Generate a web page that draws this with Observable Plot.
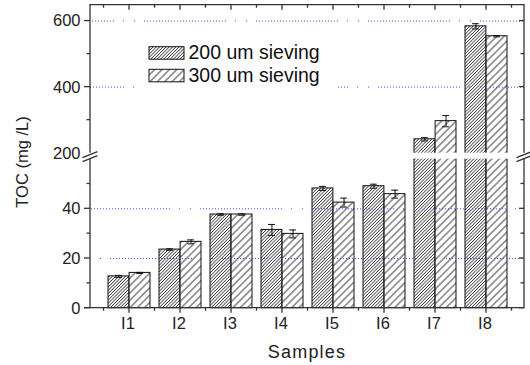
<!DOCTYPE html>
<html><head><meta charset="utf-8">
<script src="https://cdn.jsdelivr.net/npm/d3@7"></script>
<script src="https://cdn.jsdelivr.net/npm/@observablehq/plot@0.6"></script>
<style>html,body{margin:0;padding:0;background:#fff}#chart{width:530px;height:365px}</style>
</head><body><div id="chart"></div>
<script>
// ---- data ----
const samples = ["I1", "I2", "I3", "I4", "I5", "I6", "I7", "I8"];
const toc200 = [12.8, 23.6, 37.7, 31.5, 48.2, 49.1, 242, 584];
const err200 = [0.4, 0.3, 0.3, 2.2, 0.8, 0.8, 5, 8];
const toc300 = [14.2, 26.7, 37.7, 29.9, 42.5, 45.9, 297, 554];
const err300 = [0.2, 0.8, 0.3, 1.6, 1.8, 1.6, 17, 2];
const seriesNames = ["200 um sieving", "300 um sieving"];
const lowTicks = [0, 20, 40];
const lowMinor = [10, 30, 50];
const highTicks = [200, 400, 600];
const highMinor = [300, 500];
const gridValues = [20, 40, 400, 600];
const gridOffsets = [92, 2, 48, 58];
const yBreak = [60, 200];
const yDomain = [0, 60, 200, 648];

// ---- layout ----
const FONT = "'Liberation Sans', Arial, Helvetica, sans-serif";
const W = 530, H = 365;
const xL = 90, xR = 524, yB = 307.7, yT = 4.7;
const padIn = 0.18, padOut = 0.305;
const step0 = (xR - xL) / (samples.length - padIn + 2 * padOut);
const bw0 = step0 * (1 - padIn);
const ink = "#222";

const d200 = samples.map((s, i) => ({sample: s, v: toc200[i], e: err200[i]}));
const d300 = samples.map((s, i) => ({sample: s, v: toc300[i], e: err300[i]}));

// dotted grid dash pattern (runs of dots with isolated dots)
const dash = [];
for (let k = 0; k < 28; k++) dash.push(1, 2);
dash[dash.length - 1] = 9;
dash.push(1, 10, 1, 9);
const dashStr = dash.join(",");

function defsMark() {
  const g = d3.create("svg:g");
  const defs = g.append("defs");
  const mk = (id, sp, sw, col) => {
    const p = defs.append("pattern").attr("id", id).attr("patternUnits", "userSpaceOnUse")
      .attr("width", sp).attr("height", sp).attr("patternTransform", "rotate(45)");
    p.append("rect").attr("width", sp).attr("height", sp).attr("fill", "white");
    p.append("line").attr("x1", sp / 2).attr("x2", sp / 2).attr("y1", -1).attr("y2", sp + 1)
      .attr("stroke", col).attr("stroke-width", sw);
  };
  mk("h200", 2.3, 0.75, "#333");
  mk("h300", 5.2, 0.85, "#222");
  return g.node();
}

function gridMarks() {
  return gridValues.map((v, i) => Plot.ruleY([v], {
    stroke: "#4a4aff", strokeWidth: 1, strokeDasharray: dashStr, strokeDashoffset: gridOffsets[i]
  }));
}

function axesMark(index, scales, values, dims) {
  const X = scales.x, Y = scales.y;
  const bw = X.bandwidth ? X.bandwidth() : bw0;
  const st = X.step ? X.step() : step0;
  const cx = s => X(s) + bw / 2;
  const L = dims.marginLeft, R = dims.width - dims.marginRight;
  const T = Y(yDomain[yDomain.length - 1]), B = Y(0);
  const gTop = Y(yBreak[1]), gBot = Y(yBreak[0]);
  const g = d3.create("svg:g");

  // white gap across the break
  g.append("rect").attr("x", L + 0.7).attr("width", R - L - 1.4)
    .attr("y", gTop).attr("height", gBot - gTop).attr("fill", "white");

  const s = g.append("g").attr("fill", "none").attr("stroke", "#333").attr("stroke-width", 1.3);
  const line = (x1, y1, x2, y2) => s.append("line").attr("x1", x1).attr("y1", y1).attr("x2", x2).attr("y2", y2);
  // frame
  line(L - 0.65, T, R + 0.65, T);
  line(L - 6, B, R + 0.65, B);
  line(L, T, L, gTop); line(L, gBot, L, B);
  line(R, T, R, gTop); line(R, gBot, R, B);
  // break marks
  for (const x0 of [L, R]) {
    line(x0 - 7.5, gTop + 5, x0 + 7.5, gTop - 1);
    line(x0 - 7.5, gBot + 3, x0 + 7.5, gBot - 3);
  }
  // y ticks
  const major = lowTicks.concat(highTicks.filter(v => v !== yBreak[1]));
  const minor = lowMinor.concat(highMinor);
  for (const v of major) { const y = Y(v); line(L - 6, y, L, y); line(R - 5, y, R, y); }
  for (const v of minor) { const y = Y(v); line(L - 3.5, y, L, y); line(R - 3.5, y, R, y); }
  // x ticks
  for (const c of samples) {
    const x = cx(c);
    line(x, B, x, B + 5); line(x, T, x, T + 5);
  }
  for (let i = 0; i <= samples.length; i++) {
    const x = cx(samples[0]) - st / 2 + i * st;
    line(x, B, x, B + 3); line(x, T, x, T + 3);
  }

  const t = g.append("g").attr("font-family", FONT).attr("fill", ink).attr("stroke", "none");
  for (const v of lowTicks.concat(highTicks)) {
    t.append("text").attr("x", 80.5).attr("y", Y(v)).attr("dy", "0.36em")
      .attr("text-anchor", "end").attr("font-size", 16.5).text(v);
  }
  for (const c of samples) {
    t.append("text").attr("x", cx(c) - 1).attr("y", 329).attr("text-anchor", "middle")
      .attr("font-size", 16.5).text(c);
  }
  t.append("text").attr("x", 307).attr("y", 358.3).attr("text-anchor", "middle")
    .attr("font-size", 18).attr("letter-spacing", 1.2).text("Samples");
  t.append("text").attr("transform", "translate(28,162) rotate(-90)").attr("text-anchor", "middle")
    .attr("font-size", 16.5).text("TOC (mg /L)");

  // legend
  const lg = g.append("g");
  lg.append("rect").attr("x", 136).attr("y", 35).attr("width", 201).attr("height", 57).attr("fill", "white");
  const fills = ["url(#h200)", "url(#h300)"];
  const ys = [46.7, 69.3];
  seriesNames.forEach((name, i) => {
    lg.append("rect").attr("x", 149).attr("y", ys[i]).attr("width", 35).attr("height", 12.5)
      .attr("fill", fills[i]).attr("stroke", "#111").attr("stroke-width", 1);
    lg.append("text").attr("x", 188.5).attr("y", ys[i] + 12.4).attr("font-family", FONT)
      .attr("text-anchor", "start").attr("font-size", 19.5).attr("fill", "#111").text(name);
  });
  return g.node();
}

const plot = Plot.plot({
  width: W, height: H,
  marginLeft: xL, marginRight: W - xR, marginTop: yT, marginBottom: H - yB,
  style: {fontFamily: FONT, background: "white", overflow: "visible"},
  x: {type: "band", domain: samples, range: [xL, xR], paddingInner: padIn, paddingOuter: padOut, axis: null},
  y: {type: "linear", domain: yDomain, range: [yB, 158.6, 152.7, yT], axis: null},
  marks: [
    defsMark,
    Plot.barY(d200, {x: "sample", y: "v", fill: "url(#h200)", stroke: "#111", strokeWidth: 1, insetRight: bw0 / 2}),
    Plot.barY(d300, {x: "sample", y: "v", fill: "url(#h300)", stroke: "#111", strokeWidth: 1, insetLeft: bw0 / 2}),
    Plot.ruleX(d200, {x: "sample", y1: d => d.v - d.e, y2: d => d.v + d.e, dx: -bw0 / 4, stroke: "#111", strokeWidth: 1}),
    Plot.ruleX(d300, {x: "sample", y1: d => d.v - d.e, y2: d => d.v + d.e, dx: bw0 / 4, stroke: "#111", strokeWidth: 1}),
    Plot.tickY(d200, {x: "sample", y: d => d.v + d.e, dx: -bw0 / 4, insetLeft: bw0 / 2 - 3.5, insetRight: bw0 / 2 - 3.5, stroke: "#111"}),
    Plot.tickY(d200, {x: "sample", y: d => d.v - d.e, dx: -bw0 / 4, insetLeft: bw0 / 2 - 3.5, insetRight: bw0 / 2 - 3.5, stroke: "#111"}),
    Plot.tickY(d300, {x: "sample", y: d => d.v + d.e, dx: bw0 / 4, insetLeft: bw0 / 2 - 3.5, insetRight: bw0 / 2 - 3.5, stroke: "#111"}),
    Plot.tickY(d300, {x: "sample", y: d => d.v - d.e, dx: bw0 / 4, insetLeft: bw0 / 2 - 3.5, insetRight: bw0 / 2 - 3.5, stroke: "#111"}),
    ...gridMarks(),
    axesMark
  ]
});
document.getElementById("chart").appendChild(plot);
</script>
</body></html>
